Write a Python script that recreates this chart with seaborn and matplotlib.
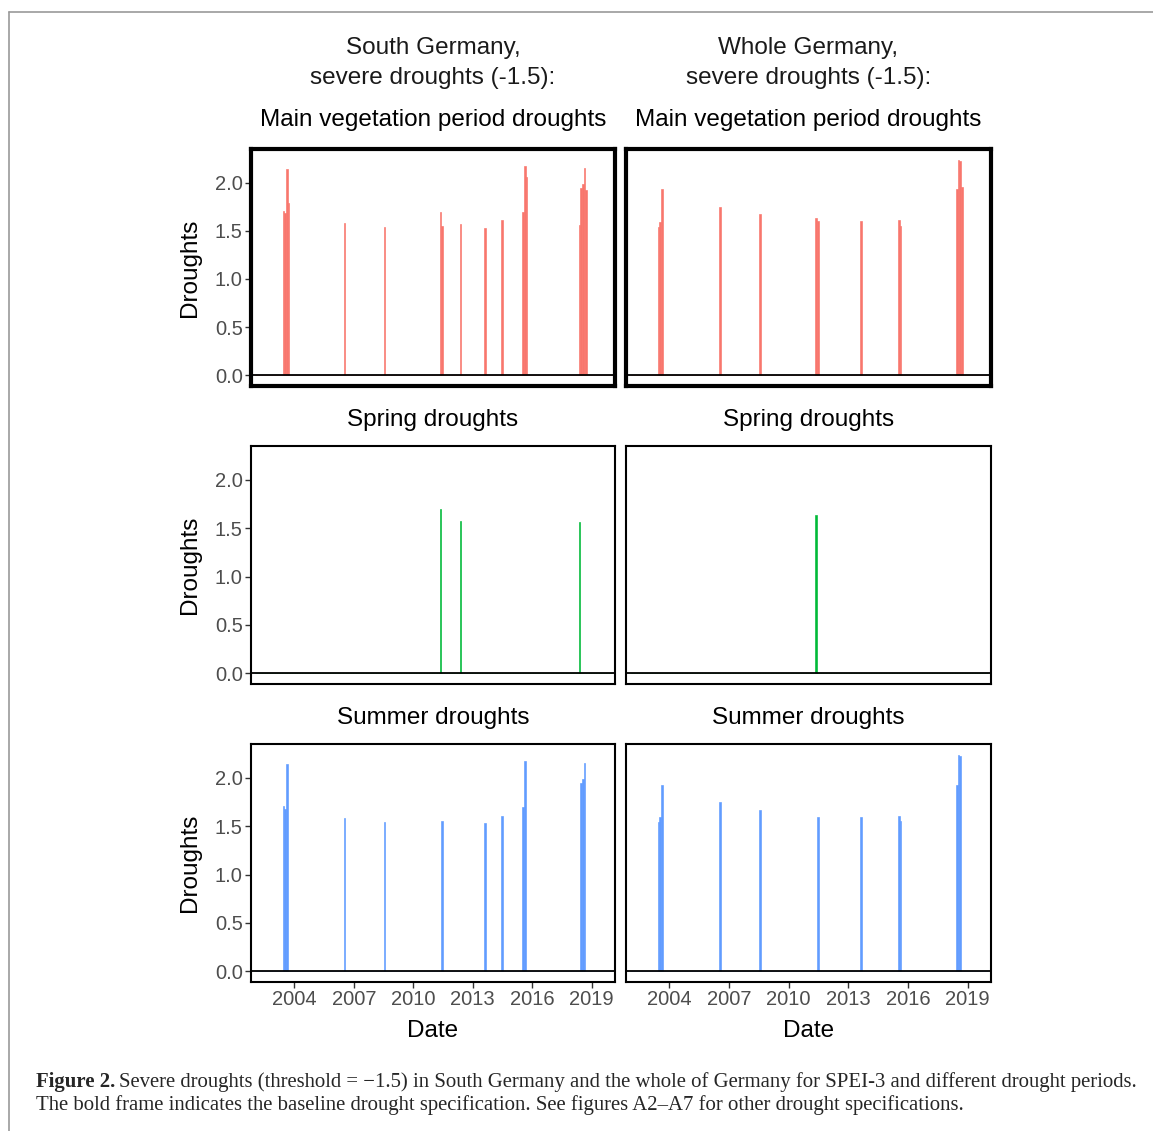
import matplotlib
matplotlib.use("Agg")
import matplotlib.pyplot as plt
import seaborn as sns
import pandas as pd
from matplotlib.lines import Line2D

# drought months (YYYY-MM) and drought intensity
south_veg_months = ["2003-06", "2003-07", "2003-08", "2003-09", "2006-07", "2008-07",
                    "2011-05", "2011-06", "2012-05", "2013-08", "2014-06",
                    "2015-07", "2015-08", "2015-09",
                    "2018-05", "2018-06", "2018-07", "2018-08", "2018-09"]
south_veg_values = [1.71, 1.68, 2.14, 1.79, 1.58, 1.54,
                    1.70, 1.55, 1.57, 1.53, 1.61,
                    1.70, 2.17, 2.06,
                    1.56, 1.95, 1.99, 2.15, 1.92]

south_spring_months = ["2011-05", "2012-05", "2018-05"]
south_spring_values = [1.70, 1.57, 1.56]

south_summer_months = ["2003-06", "2003-07", "2003-08", "2006-07", "2008-07", "2011-06",
                       "2013-08", "2014-06", "2015-07", "2015-08",
                       "2018-06", "2018-07", "2018-08"]
south_summer_values = [1.71, 1.68, 2.14, 1.58, 1.54, 1.55,
                       1.53, 1.61, 1.70, 2.17,
                       1.95, 1.99, 2.15]

whole_veg_months = ["2003-06", "2003-07", "2003-08", "2006-07", "2008-07",
                    "2011-05", "2011-06", "2013-08", "2015-07", "2015-08",
                    "2018-06", "2018-07", "2018-08", "2018-09"]
whole_veg_values = [1.54, 1.59, 1.93, 1.75, 1.67,
                    1.63, 1.60, 1.60, 1.61, 1.55,
                    1.93, 2.24, 2.23, 1.96]

whole_spring_months = ["2011-05"]
whole_spring_values = [1.64]

whole_summer_months = ["2003-06", "2003-07", "2003-08", "2006-07", "2008-07", "2011-06",
                       "2013-08", "2015-07", "2015-08",
                       "2018-06", "2018-07", "2018-08"]
whole_summer_values = [1.54, 1.59, 1.93, 1.75, 1.67, 1.60,
                       1.60, 1.61, 1.55,
                       1.93, 2.24, 2.23]

col_headers = ["South Germany,", "Whole Germany,"]
row_titles = ["Main vegetation period droughts", "Spring droughts", "Summer droughts"]
row_colors = ["#F8766D", "#00BA38", "#619CFF"]
year_ticks = [2004, 2007, 2010, 2013, 2016, 2019]
y_ticks = [0.0, 0.5, 1.0, 1.5, 2.0]

panels = [
    [(south_veg_months, south_veg_values), (whole_veg_months, whole_veg_values)],
    [(south_spring_months, south_spring_values), (whole_spring_months, whole_spring_values)],
    [(south_summer_months, south_summer_values), (whole_summer_months, whole_summer_values)],
]

W, H = 1153, 1131


def fx(x):
    return x / W


def fy(y):
    return 1 - y / H


def to_decimal(months):
    # middle of each month as decimal year
    return [int(m[:4]) + (int(m[5:]) - 0.5) / 12 for m in months]


sns.set_theme(style="white")
plt.rcParams['font.family'] = ['Liberation Sans', 'DejaVu Sans']

fig = plt.figure(figsize=(W / 100, H / 100), dpi=100)

col_x = [(251, 615), (626, 991)]
row_y = [(149, 386), (446, 684), (744, 982)]
title_fs = 17.5
tick_fs = 14.5

for r in range(3):
    for c in range(2):
        x0, x1 = col_x[c]
        y0, y1 = row_y[r]
        ax = fig.add_axes([fx(x0), fy(y1), (x1 - x0) / W, (y1 - y0) / H])
        months, vals = panels[r][c]
        df = pd.DataFrame({"date": to_decimal(months), "droughts": vals})
        sns.histplot(data=df, x="date", weights="droughts", binwidth=1 / 12,
                     binrange=(2002, 2020), shrink=1.0, color=row_colors[r],
                     alpha=1, linewidth=0.45, edgecolor=row_colors[r], ax=ax)
        ax.axhline(0, color="black", lw=1.3)
        ax.set_xlim(2001.82, 2020.17)
        ax.set_ylim(-0.112, 2.35)
        ax.set_xticks(year_ticks)
        ax.set_yticks(y_ticks)
        ax.set_xlabel("")
        ax.set_ylabel("")
        ax.tick_params(axis="both", length=4, width=1, color="#333333",
                       labelsize=tick_fs, labelcolor="#4D4D4D", pad=2)
        if r == 2:
            ax.tick_params(axis="x", bottom=True, labelbottom=True)
            ax.set_xticklabels([str(y) for y in year_ticks])
        else:
            ax.tick_params(axis="x", bottom=False, labelbottom=False)
        if c == 0:
            ax.tick_params(axis="y", left=True, labelleft=True)
            ax.set_yticklabels([f"{v:.1f}" for v in y_ticks])
        else:
            ax.tick_params(axis="y", left=False, labelleft=False)
        for sp in ax.spines.values():
            sp.set_color("black")
            sp.set_linewidth(3.0 if r == 0 else 1.5)

        fig.text(fx((x0 + x1) / 2), fy(y0 - (29 if r == 0 else 26)), row_titles[r],
                 ha="center", va="center", fontsize=title_fs, color="black")
        if c == 0:
            fig.text(fx(190), fy((y0 + y1) / 2), "Droughts", rotation=90,
                     ha="center", va="center", fontsize=title_fs, color="black")
        if r == 2:
            fig.text(fx((x0 + x1) / 2), fy(1031), "Date", ha="center", va="center",
                     fontsize=title_fs, color="black")

# column headers
for c in range(2):
    cx = (col_x[c][0] + col_x[c][1]) / 2
    fig.text(fx(cx), fy(48), col_headers[c], ha="center", va="center",
             fontsize=title_fs, color="#1a1a1a")
    fig.text(fx(cx), fy(78), "severe droughts (-1.5):", ha="center", va="center",
             fontsize=title_fs, color="#1a1a1a")

# outer frame
fig.add_artist(Line2D([fx(9), fx(9)], [0, fy(12)], color="#9a9a9a", lw=1.2,
                      transform=fig.transFigure))
fig.add_artist(Line2D([fx(9), 1], [fy(12), fy(12)], color="#9a9a9a", lw=1.2,
                      transform=fig.transFigure))

# caption
serif = ["Liberation Serif", "DejaVu Serif"]
cap_fs = 14.95
line1 = ("Severe droughts (threshold = \u22121.5) in South Germany and the whole of "
         "Germany for SPEI-3 and different drought periods.")
line2 = ("The bold frame indicates the baseline drought specification. "
         "See figures A2\u2013A7 for other drought specifications.")
bold = fig.text(fx(36), fy(1082), "Figure 2.", fontsize=cap_fs, family=serif,
                weight="bold", va="center", ha="left")
fig.canvas.draw()
bb = bold.get_window_extent()
fig.text((bb.x1 + 4) / W, fy(1082), line1, fontsize=cap_fs, family=serif,
         va="center", ha="left")
fig.text(fx(36), fy(1105), line2, fontsize=cap_fs, family=serif,
         va="center", ha="left")

fig.savefig("out.png", dpi=100)
